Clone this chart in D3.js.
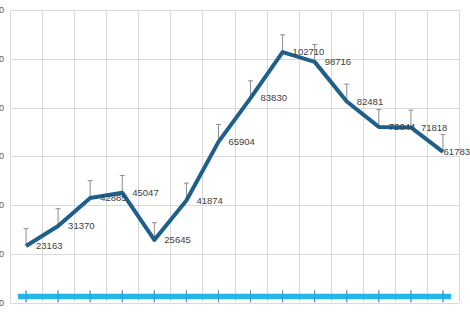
<!DOCTYPE html>
<html>
<head>
<meta charset="utf-8">
<script src="https://cdn.jsdelivr.net/npm/d3@7"></script>
<style>
    body { margin: 0; background: #fff; }
    svg { display: block; }
</style>
</head>
<body>
<div id="chart"></div>
<script>
// Data
const categories = ["1", "2", "3", "4", "5", "6", "7", "8", "9", "10", "11", "12", "13", "14"];
const mainValues = [23163, 31370, 42885, 45047, 25645, 41874, 65904, 83830, 102710, 98716, 82481, 72044, 71818, 61783];
const mainErrors = [7100, 7100, 7100, 7100, 7100, 7100, 7100, 7100, 7100, 7100, 7100, 7100, 7100, 7100];
const lowValues = [2500, 2500, 2500, 2500, 2500, 2500, 2500, 2500, 2500, 2500, 2500, 2500, 2500, 2500];
const lowErrors = [2400, 2400, 2400, 2400, 2400, 2400, 2400, 2400, 2400, 2400, 2400, 2400, 2400, 2400];
const yTicks = [0, 20000, 40000, 60000, 80000, 100000, 120000];

const width = 470;
const height = 318;
const plot = { left: 10, right: 459, top: 10, bottom: 302.5 };

const svg = d3.select("#chart")
    .append("svg")
    .attr("width", width)
    .attr("height", height);

const x = d3.scaleBand()
    .domain(categories)
    .range([plot.left, plot.right]);

const y = d3.scaleLinear()
    .domain([0, 120000])
    .range([plot.bottom, plot.top]);

const cx = (d, i) => x(categories[i]) + x.bandwidth() / 2;

// Gridlines
svg.append("g")
    .selectAll("line")
    .data(yTicks)
    .enter()
    .append("line")
    .attr("x1", plot.left)
    .attr("x2", plot.right)
    .attr("y1", d => Math.round(y(d)) + 0.5)
    .attr("y2", d => Math.round(y(d)) + 0.5)
    .attr("stroke", "#d9d9d9");

const bounds = categories.map(c => x(c)).concat([plot.right]);
svg.append("g")
    .selectAll("line")
    .data(bounds)
    .enter()
    .append("line")
    .attr("x1", d => Math.round(d) + 0.5)
    .attr("x2", d => Math.round(d) + 0.5)
    .attr("y1", plot.top)
    .attr("y2", plot.bottom)
    .attr("stroke", "#d9d9d9");

// Y tick labels (mostly cut off at the left edge)
svg.append("g")
    .selectAll("text")
    .data(yTicks)
    .enter()
    .append("text")
    .attr("x", 4)
    .attr("y", d => y(d))
    .attr("dy", "0.35em")
    .attr("text-anchor", "end")
    .style("font-family", "'Liberation Sans', Arial, sans-serif")
    .style("font-size", "9px")
    .style("fill", "#595959")
    .text(d => d);

// Low series: whiskers then thick cyan line
svg.append("g")
    .selectAll("line")
    .data(lowValues)
    .enter()
    .append("line")
    .attr("x1", cx)
    .attr("x2", cx)
    .attr("y1", (d, i) => y(d + lowErrors[i]))
    .attr("y2", (d, i) => y(d - lowErrors[i]))
    .attr("stroke", "#3f8fbf")
    .attr("stroke-width", 1);

const lowPts = lowValues.map((d, i) => [cx(d, i), y(d)]);
lowPts.unshift([lowPts[0][0] - 8, lowPts[0][1]]);
lowPts.push([lowPts[lowPts.length - 1][0] + 8, lowPts[lowPts.length - 1][1]]);
svg.append("path")
    .attr("d", d3.line()(lowPts))
    .attr("fill", "none")
    .attr("stroke", "#19b2e8")
    .attr("stroke-width", 5.5)
    .attr("opacity", 0.95);

svg.append("g")
    .selectAll("line")
    .data(lowValues)
    .enter()
    .append("line")
    .attr("x1", cx)
    .attr("x2", cx)
    .attr("y1", (d, i) => y(d + lowErrors[i]))
    .attr("y2", (d, i) => y(d - lowErrors[i]))
    .attr("stroke", "#3f8fbf")
    .attr("stroke-width", 1)
    .attr("opacity", 0.6);

// Error bars (plus direction only)
const err = svg.append("g")
    .selectAll("g")
    .data(mainValues)
    .enter()
    .append("g");

err.append("line")
    .attr("x1", cx)
    .attr("x2", cx)
    .attr("y1", d => y(d))
    .attr("y2", (d, i) => y(d + mainErrors[i]))
    .attr("stroke", "#8c8c8c")
    .attr("stroke-width", 1);

err.append("line")
    .attr("x1", (d, i) => cx(d, i) - 2.5)
    .attr("x2", (d, i) => cx(d, i) + 2.5)
    .attr("y1", (d, i) => y(d + mainErrors[i]))
    .attr("y2", (d, i) => y(d + mainErrors[i]))
    .attr("stroke", "#8c8c8c")
    .attr("stroke-width", 1);

// Main line
const line = d3.line()
    .x((d, i) => cx(d, i))
    .y(d => y(d));

svg.append("path")
    .datum(mainValues)
    .attr("d", line)
    .attr("fill", "none")
    .attr("stroke", "#1f5f8b")
    .attr("stroke-width", 4)
    .attr("stroke-linejoin", "round");

// Data labels
svg.append("g")
    .selectAll("text")
    .data(mainValues)
    .enter()
    .append("text")
    .attr("x", (d, i) => cx(d, i) + 10)
    .attr("y", d => y(d))
    .attr("dy", "0.35em")
    .style("font-family", "'Liberation Sans', Arial, sans-serif")
    .style("font-size", "9.5px")
    .style("fill", "#404040")
    .text(d => d)
    .each(function () {
        // keep the label inside the picture
        const w = this.getComputedTextLength();
        const lx = +this.getAttribute("x");
        if (lx + w > width) this.setAttribute("x", width - w);
    });
</script>
</body>
</html>
